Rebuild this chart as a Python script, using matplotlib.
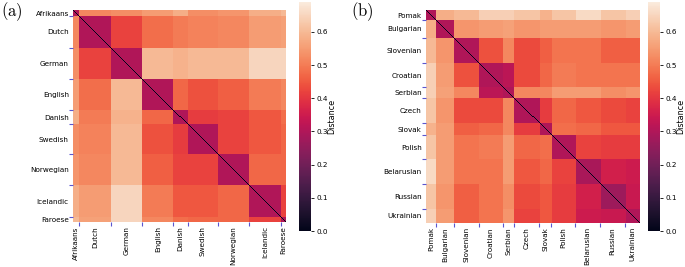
import numpy as np
import matplotlib
matplotlib.use("Agg")
import matplotlib.pyplot as plt
import seaborn as sns

plt.rcParams["mathtext.fontset"] = "cm"

# panel (a): Germanic languages
langs_a = ["Afrikaans", "Dutch", "German", "English", "Danish",
           "Swedish", "Norwegian", "Icelandic", "Faroese"]
sizes_a = [6, 32, 31, 31, 14, 30, 31, 32, 5]
# upper triangle of the block-level distance matrix (row i starts at column i)
upper_a = [
    [0.30, 0.52, 0.53, 0.55, 0.58, 0.53, 0.54, 0.58, 0.60],
    [0.30, 0.42, 0.48, 0.50, 0.51, 0.52, 0.55, 0.56],
    [0.30, 0.60, 0.59, 0.60, 0.60, 0.65, 0.65],
    [0.30, 0.47, 0.44, 0.46, 0.50, 0.52],
    [0.30, 0.41, 0.42, 0.45, 0.48],
    [0.30, 0.42, 0.45, 0.47],
    [0.30, 0.47, 0.47],
    [0.30, 0.42],
    [0.30],
]

# panel (b): Slavic languages
langs_b = ["Pomak", "Bulgarian", "Slovenian", "Croatian", "Serbian", "Czech",
           "Slovak", "Polish", "Belarusian", "Russian", "Ukrainian"]
sizes_b = [10, 18, 25, 24, 11, 25, 12, 24, 25, 25, 14]
upper_b = [
    [0.30, 0.58, 0.60, 0.64, 0.64, 0.62, 0.59, 0.62, 0.66, 0.62, 0.64],
    [0.30, 0.54, 0.55, 0.56, 0.54, 0.55, 0.55, 0.55, 0.54, 0.55],
    [0.30, 0.44, 0.52, 0.43, 0.46, 0.49, 0.49, 0.46, 0.46],
    [0.30, 0.32, 0.43, 0.47, 0.50, 0.49, 0.49, 0.49],
    [0.30, 0.52, 0.52, 0.55, 0.55, 0.53, 0.54],
    [0.30, 0.41, 0.47, 0.45, 0.43, 0.42],
    [0.30, 0.48, 0.47, 0.45, 0.45],
    [0.30, 0.42, 0.41, 0.41],
    [0.29, 0.36, 0.35],
    [0.27, 0.34],
    [0.30],
]

VMAX = 0.69
cmap = sns.color_palette("rocket", as_cmap=True)


def full_matrix(upper, sizes):
    n = len(upper)
    d = np.zeros((n, n))
    for i, row in enumerate(upper):
        d[i, i:] = row
        d[i:, i] = row
    m = np.repeat(np.repeat(d, sizes, axis=0), sizes, axis=1)
    np.fill_diagonal(m, 0.0)
    return m


def draw_panel(fig, hm_rect, cb_rect, langs, sizes, upper, tag, tag_x):
    m = full_matrix(upper, sizes)
    ax = fig.add_axes(hm_rect)
    cax = fig.add_axes(cb_rect)
    im = ax.imshow(m, cmap=cmap, vmin=0, vmax=VMAX, aspect="auto",
                   interpolation="nearest",
                   extent=(0, m.shape[1], m.shape[0], 0))

    # block borders get the ticks, block centres get the names
    edges = np.cumsum(sizes)
    centers = edges - np.array(sizes) / 2
    ax.set_xticks(edges[:-1])
    ax.set_yticks(edges[:-1])
    ax.set_xticklabels([])
    ax.set_yticklabels([])
    ax.set_xticks(centers, minor=True)
    ax.set_xticklabels(langs, minor=True, rotation=90)
    ax.set_yticks(centers, minor=True)
    ax.set_yticklabels(langs, minor=True)
    ax.tick_params(which="major", length=3.2, width=0.8, color="#5a55d0")
    ax.tick_params(which="minor", length=0, pad=3, labelsize=5.2)
    for s in ax.spines.values():
        s.set_visible(False)

    cb = fig.colorbar(im, cax=cax)
    cb.outline.set_visible(False)
    cb.set_ticks([0.0, 0.1, 0.2, 0.3, 0.4, 0.5, 0.6])
    cb.ax.tick_params(labelsize=5.2, length=2.5, width=0.6, pad=1.5)
    cb.set_label("Distance", fontsize=5.8, labelpad=-0.3)

    fig.text(tag_x, 0.955, r"$(\mathrm{" + tag + "})$", fontsize=12,
             va="center", ha="left")


fig = plt.figure(figsize=(6.85, 2.67), dpi=100)
draw_panel(fig, [73 / 685, 45 / 267, 213 / 685, 212 / 267],
           [299 / 685, 36 / 267, 12 / 685, 229 / 267],
           langs_a, sizes_a, upper_a, "a", 0.002)
draw_panel(fig, [426 / 685, 44 / 267, 213 / 685, 213 / 267],
           [648 / 685, 36 / 267, 12 / 685, 229 / 267],
           langs_b, sizes_b, upper_b, "b", 0.512)
fig.savefig("out.png", dpi=100)
